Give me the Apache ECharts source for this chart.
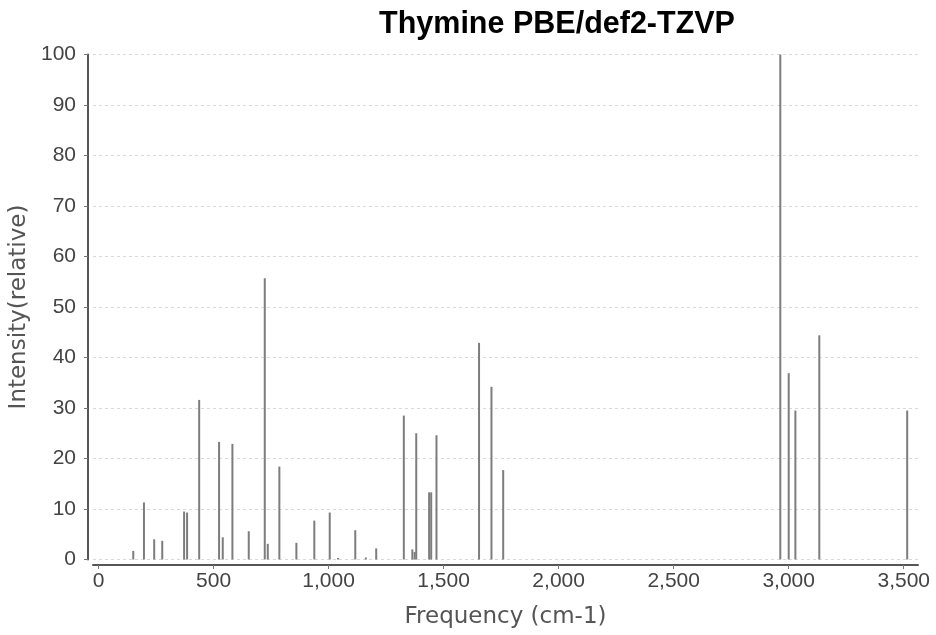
<!DOCTYPE html>
<html>
<head>
<meta charset="utf-8">
<script src="https://cdn.jsdelivr.net/npm/echarts@6/dist/echarts.min.js"></script>
<style>
html,body{margin:0;padding:0;background:#fff;}
#chart{width:936px;height:635px;}
</style>
</head>
<body>
<div id="chart"></div>
<script>
const titleText = 'Thymine PBE/def2-TZVP';
const xAxisName = 'Frequency (cm-1)';
const yAxisName = 'Intensity(relative)';
const frequencies = [151, 197.5, 242, 277, 372, 385, 437.5, 524, 540, 582, 653, 722.6, 735.7, 786, 860, 938, 1005, 1041, 1116, 1162, 1207, 1327, 1364, 1374, 1381, 1437, 1446, 1469, 1654, 1708, 1759, 2963.5, 3000, 3029, 3133, 3515];
const intensities = [1.7, 11.3, 4.0, 3.7, 9.5, 9.3, 31.6, 23.3, 4.4, 22.9, 5.6, 55.7, 3.1, 18.4, 3.3, 7.7, 9.3, 0.3, 5.8, 0.4, 2.2, 28.5, 2.0, 1.5, 25.0, 13.3, 13.3, 24.6, 42.9, 34.2, 17.7, 100, 36.9, 29.5, 44.4, 29.5];
const xTicks = [0, 500, 1000, 1500, 2000, 2500, 3000, 3500];

const data = frequencies.map((f, i) => [f, intensities[i]]);

const chart = echarts.init(document.getElementById('chart'), null, {renderer: 'canvas'});
chart.setOption({
  animation: false,
  backgroundColor: '#ffffff',
  title: {
    text: titleText,
    left: 552,
    textAlign: 'center',
    top: 4,
    textStyle: {fontFamily: 'Liberation Sans', fontWeight: 'bold', fontSize: 30.5, color: '#000'}
  },
  grid: {left: 93, right: 18, top: 54.5, bottom: 75.5, containLabel: false, outerBoundsMode: 'none'},
  xAxis: {
    type: 'value',
    min: -24,
    max: 3562,
    offset: 5.5,
    name: xAxisName,
    nameLocation: 'middle',
    nameGap: 41,
    nameTextStyle: {fontFamily: 'DejaVu Sans', fontSize: 23, color: '#555'},
    axisLine: {show: true, onZero: false, lineStyle: {color: '#555', width: 2}},
    axisTick: {show: true, length: 4, lineStyle: {color: '#777'}, customValues: xTicks},
    axisLabel: {
      customValues: xTicks,
      margin: 6,
      fontFamily: 'Liberation Sans', fontSize: 21, color: '#444',
      formatter: v => Number(v).toLocaleString('en-US')
    },
    splitLine: {show: false}
  },
  yAxis: {
    type: 'value',
    min: 0,
    max: 100,
    interval: 10,
    offset: 5,
    name: yAxisName,
    nameLocation: 'middle',
    nameGap: 48,
    nameTextStyle: {fontFamily: 'DejaVu Sans', fontSize: 23, color: '#555'},
    axisLine: {show: true, onZero: false, lineStyle: {color: '#555', width: 2}},
    axisTick: {show: true, length: 4, lineStyle: {color: '#777'}},
    axisLabel: {margin: 12, fontFamily: 'Liberation Sans', fontSize: 21, color: '#444'},
    splitLine: {show: true, lineStyle: {color: '#d9d9d9', type: [3, 3], width: 1}}
  },
  series: [{
    type: 'bar',
    data: data,
    barWidth: 2,
    itemStyle: {color: '#7d7d7d'},
    silent: true
  }]
});
</script>
</body>
</html>
